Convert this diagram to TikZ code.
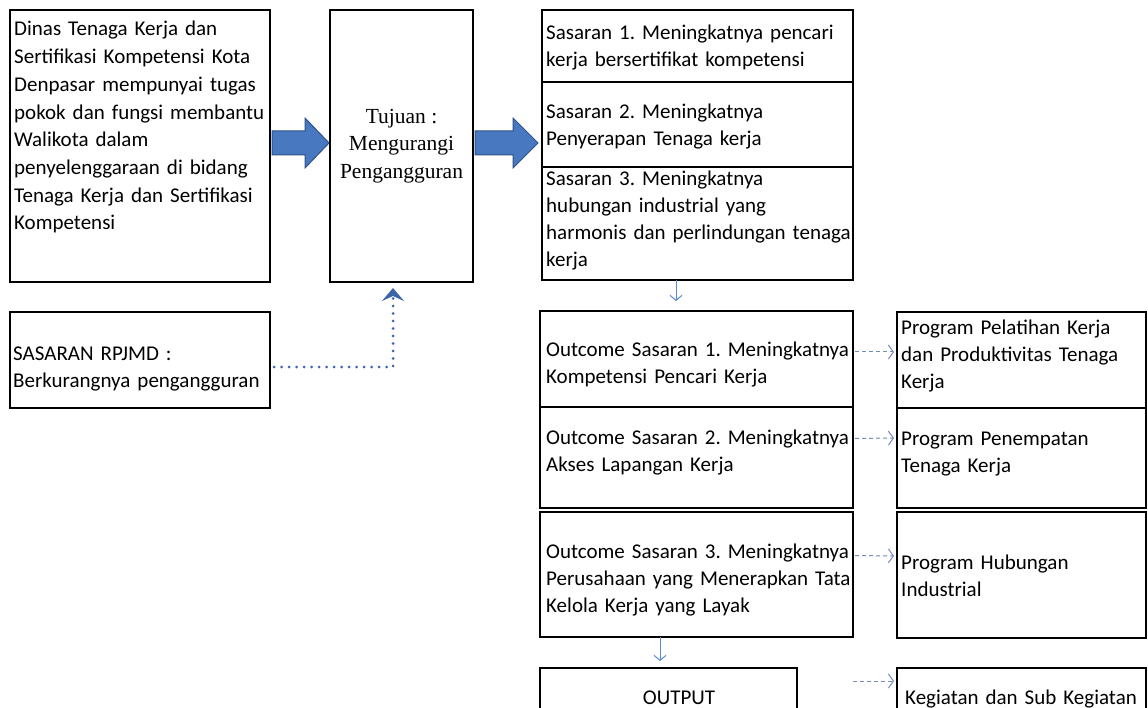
\documentclass[tikz,border=0pt]{standalone}
\usepackage{fontspec}
\setmainfont{Carlito}
\newfontfamily\serifface{Liberation Serif}
\usetikzlibrary{arrows.meta,calc}
\definecolor{arrfill}{RGB}{72,120,192}
\definecolor{arrdraw}{RGB}{47,82,140}
\definecolor{dotblue}{RGB}{60,100,170}
\definecolor{thinblue}{RGB}{90,140,205}
\definecolor{dashblue}{RGB}{115,140,185}
\frenchspacing
\hyphenpenalty=10000
\exhyphenpenalty=10000
\begin{document}
\begin{tikzpicture}[x=1pt,y=-1pt,
  box/.style={draw=black,line width=1.7pt,anchor=north west,inner sep=0pt,outer sep=0pt},
  txt/.style={anchor=base west,inner sep=0pt,align=left,text width=#1,font=\fontsize{21}{27}\selectfont},
  txt/.default=420pt,
  bigarr/.style={fill=arrfill,draw=arrdraw,line width=1pt,line join=miter},
  thinarr/.style={draw=thinblue,line width=1pt,-{Straight Barb[length=5pt,width=12pt]}},
  dasharr/.style={draw=dashblue,line width=1pt,dash pattern=on 4pt off 3pt,-{Straight Barb[length=5pt,width=14pt]}},
  dotarr/.style={draw=dotblue,line width=3pt,dash pattern=on 0pt off 7.5pt,line cap=round,-{Stealth[length=13pt,width=22pt,inset=5pt]}}
]
\useasboundingbox (0,0) rectangle (1148,708);
\fill[white] (0,0) rectangle (1148,708);

% boxes
\node[box,minimum width=260pt,minimum height=272pt] (dinas) at (10,10) {};
\node[box,minimum width=143pt,minimum height=272pt,align=center,
      font=\serifface\fontsize{21.5}{27.5}\selectfont] (tuj) at (330,10) {Tujuan :\\Mengurangi\\Pengangguran};
\node[box,minimum width=260pt,minimum height=96pt] (rpjmd) at (10,312) {};

\node[box,minimum width=311pt,minimum height=72pt] (sas1) at (542,10) {};
\node[box,minimum width=311pt,minimum height=85pt] (sas2) at (542,82) {};
\node[box,minimum width=311pt,minimum height=113pt] (sas3) at (542,167) {};

\node[box,minimum width=313pt,minimum height=96pt] (out1) at (540,311) {};
\node[box,minimum width=313pt,minimum height=101pt] (out2) at (540,407) {};
\node[box,minimum width=313pt,minimum height=125pt] (out3) at (540,512) {};

\node[box,minimum width=249pt,minimum height=96pt] (prog1) at (897,312) {};
\node[box,minimum width=249pt,minimum height=100pt] (prog2) at (897,408) {};
\node[box,minimum width=249pt,minimum height=126pt] (prog3) at (897,512) {};

\node[box,minimum width=257pt,minimum height=70pt] (outp) at (540,668) {};
\node[box,minimum width=249pt,minimum height=70pt] (keg) at (897,668) {};

% texts
\node[txt] (tdinas) at (14,36) {Dinas Tenaga Kerja dan\\[0.7pt]Sertifikasi Kompetensi Kota\\[0.7pt]Denpasar mempunyai tugas\\[0.7pt]pokok dan fungsi membantu\\[0.7pt]Walikota dalam\\[0.7pt]penyelenggaraan di bidang\\[0.7pt]Tenaga Kerja dan Sertifikasi\\[0.7pt]Kompetensi};
\node[txt] (trpjmd) at (13,360) {SASARAN RPJMD :\\Berkurangnya pengangguran};
\node[txt] (tsas1) at (546,40) {Sasaran 1. Meningkatnya pencari\\kerja bersertifikat kompetensi};
\node[txt] (tsas2) at (546,119) {Sasaran 2. Meningkatnya\\Penyerapan Tenaga kerja};
\node[txt] (tsas3) at (546,186) {Sasaran 3. Meningkatnya\\hubungan industrial yang\\harmonis dan perlindungan tenaga\\kerja};
\node[txt] (tout1) at (546,356) {Outcome Sasaran 1. Meningkatnya\\Kompetensi Pencari Kerja};
\node[txt] (tout2) at (546,444) {Outcome Sasaran 2. Meningkatnya\\Akses Lapangan Kerja};
\node[txt] (tout3) at (546,558) {Outcome Sasaran 3. Meningkatnya\\Perusahaan yang Menerapkan Tata\\Kelola Kerja yang Layak};
\node[txt] (tprog1) at (901,335) {Program Pelatihan Kerja\\dan Produktivitas Tenaga\\Kerja};
\node[txt] (tprog2) at (901,445) {Program Penempatan\\Tenaga Kerja};
\node[txt] (tprog3) at (901,569) {Program Hubungan\\Industrial};
\node[anchor=base,inner sep=0pt,font=\fontsize{21}{27}\selectfont] (toutp) at (679,704) {OUTPUT};
\node[txt] (tkeg) at (905,704) {Kegiatan dan Sub Kegiatan};

% big block arrows
\coordinate (a1s) at ($(dinas.east)+(2,-3)$);
\coordinate (a1e) at ($(tuj.west)+(-1,-3)$);
\path[bigarr] ($(a1s)+(0,-12)$) -- ($(a1e)+(-24,-12)$) -- ($(a1e)+(-24,-25)$) -- (a1e)
  -- ($(a1e)+(-24,25)$) -- ($(a1e)+(-24,12)$) -- ($(a1s)+(0,12)$) -- cycle;
\coordinate (a2s) at ($(tuj.east)+(2,-3)$);
\coordinate (a2e) at ($(tuj.east -| sas2.west)+(-4,-3)$);
\path[bigarr] ($(a2s)+(0,-12)$) -- ($(a2e)+(-25,-12)$) -- ($(a2e)+(-25,-25)$) -- (a2e)
  -- ($(a2e)+(-25,25)$) -- ($(a2e)+(-25,12)$) -- ($(a2s)+(0,12)$) -- cycle;

% dotted connector
\coordinate (dotc) at (rpjmd.east -| 393,0);
\draw[dotarr,shorten >=6pt] ($(rpjmd.east)+(4,7)$) -- ($(dotc)+(0,7)$) -- (tuj.south -| dotc);

% thin arrows
\draw[thinarr,shorten >=10pt] (sas3.south -| 676,0) -- (out1.north -| 676,0);
\draw[thinarr,shorten >=7pt] (out3.south -| 660,0) -- (outp.north -| 660,0);

% dashed arrows
\draw[dasharr,shorten >=3pt] ($(out1.east)+(2,-7)$) -- ($(prog1.west)+(0,-8)$);
\draw[dasharr,shorten >=3pt] ($(out2.east)+(2,-19)$) -- ($(prog2.west)+(0,-20)$);
\draw[dasharr,shorten >=3pt] ($(out3.east)+(2,-19)$) -- ($(prog3.west)+(0,-19)$);
\draw[dasharr,shorten >=3pt] (out3.east |- 0,681) -- (keg.west |- 0,681);
\end{tikzpicture}
\end{document}
